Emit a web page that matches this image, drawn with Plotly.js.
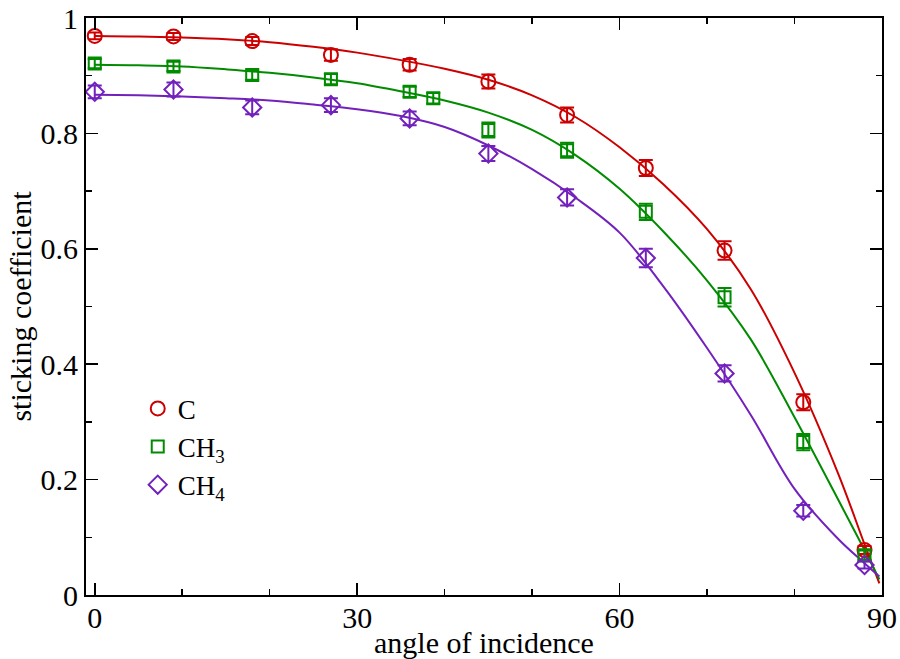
<!DOCTYPE html>
<html>
<head>
<meta charset="utf-8">
<script src="https://cdn.plot.ly/plotly-3.0.1.min.js"></script>
<style>body{margin:0;padding:0;background:#fff}#chart{width:900px;height:659px}</style>
</head>
<body>
<div id="chart"></div>
<script>
// Measured data points (angle of incidence, sticking coefficient, error)
const angles = [0, 9, 18, 27, 36, 45, 54, 63, 72, 81, 88];
const anglesCH3 = [0, 9, 18, 27, 36, 38.7, 45, 54, 63, 72, 81, 88];

const valC   = [0.969, 0.968, 0.960, 0.936, 0.919, 0.890, 0.832, 0.740, 0.597, 0.334, 0.078];
const errC   = [0.006, 0.006, 0.007, 0.010, 0.010, 0.012, 0.013, 0.014, 0.016, 0.014, 0.007];

const valCH3 = [0.921, 0.916, 0.901, 0.894, 0.872, 0.861, 0.806, 0.771, 0.664, 0.516, 0.265, 0.069];
const errCH3 = [0.008, 0.008, 0.008, 0.009, 0.009, 0.009, 0.013, 0.013, 0.014, 0.016, 0.014, 0.008];

const valCH4 = [0.872, 0.876, 0.845, 0.849, 0.826, 0.765, 0.689, 0.584, 0.384, 0.146, 0.052];
const errCH4 = [0.011, 0.012, 0.012, 0.012, 0.012, 0.013, 0.014, 0.016, 0.014, 0.010, 0.006];

// Fitted curves
const fitX    = [0, 5, 10, 15, 20, 25, 30, 35, 40, 45, 50, 55, 60, 65, 70, 75, 80, 85, 88, 89.7];
const fitC    = [0.969, 0.968, 0.966, 0.963, 0.958, 0.950, 0.940, 0.927, 0.912, 0.893, 0.866, 0.828, 0.776, 0.712, 0.634, 0.530, 0.385, 0.210, 0.088, 0.020];
const fitCH3  = [0.919, 0.918, 0.916, 0.911, 0.905, 0.897, 0.887, 0.873, 0.857, 0.836, 0.806, 0.762, 0.704, 0.630, 0.545, 0.443, 0.308, 0.165, 0.078, 0.027];
const fitCH4  = [0.867, 0.866, 0.864, 0.861, 0.857, 0.850, 0.842, 0.830, 0.811, 0.779, 0.738, 0.688, 0.628, 0.535, 0.428, 0.312, 0.184, 0.097, 0.055, 0.032];

const names = ['C', 'CH<sub>3</sub>', 'CH<sub>4</sub>'];
const colors = ['rgb(204,0,0)', 'rgb(0,139,0)', 'rgb(114,33,188)'];
const FONT = '"Liberation Serif", "Times New Roman", serif';

function lineTrace(y, c) {
  return {x: fitX, y: y, mode: 'lines', line: {color: c, width: 2, shape: 'spline', smoothing: 1},
          showlegend: false, hoverinfo: 'skip'};
}
function ptTrace(x, y, e, name, c, sym, size) {
  return {x: x, y: y, name: name, mode: 'markers',
          marker: {symbol: sym, size: size, color: c, line: {color: c, width: 2}},
          error_y: {type: 'data', array: e, visible: true, color: c, thickness: 2, width: 7}};
}

const data = [
  lineTrace(fitC, colors[0]),
  lineTrace(fitCH3, colors[1]),
  lineTrace(fitCH4, colors[2]),
  ptTrace(angles, valC, errC, names[0], colors[0], 'circle-open', 14),
  ptTrace(anglesCH3, valCH3, errCH3, names[1], colors[1], 'square-open', 12),
  ptTrace(angles, valCH4, errCH4, names[2], colors[2], 'diamond-open', 14)
];

const axisCommon = {
  showgrid: false, zeroline: false, showline: true, linecolor: '#000', linewidth: 2,
  mirror: 'ticks', ticks: 'inside', ticklen: 12, tickwidth: 1.5, tickcolor: '#000',
  tickfont: {family: FONT, size: 30, color: '#000'}
};

const layout = {
  width: 900, height: 659,
  margin: {l: 86, r: 18, t: 18, b: 64},
  paper_bgcolor: '#fff', plot_bgcolor: '#fff',
  font: {family: FONT, size: 30, color: '#000'},
  xaxis: Object.assign({}, axisCommon, {
    range: [-1, 90], tickvals: [0, 30, 60, 90], ticktext: ['0', '30', '60', '90'],
    ticklabelstandoff: -5,
    minor: {dtick: 10, tick0: 0, ticks: 'inside', ticklen: 6, tickwidth: 1.5, tickcolor: '#000'},
    title: {text: 'angle of incidence', font: {family: FONT, size: 30, color: '#000'}, standoff: 0}
  }),
  yaxis: Object.assign({}, axisCommon, {
    range: [0, 1], tickvals: [0, 0.2, 0.4, 0.6, 0.8, 1], ticktext: ['0', '0.2', '0.4', '0.6', '0.8', '1'],
    minor: {dtick: 0.1, tick0: 0, ticks: 'inside', ticklen: 6, tickwidth: 1.5, tickcolor: '#000'},
    title: {text: 'sticking coefficient', font: {family: FONT, size: 30, color: '#000'}, standoff: 0}
  }),
  showlegend: true,
  legend: {x: 0.065, y: 0.365, xanchor: 'left', yanchor: 'top', bgcolor: 'rgba(0,0,0,0)',
           font: {family: FONT, size: 27, color: '#000'}, tracegroupgap: 0, itemwidth: 30}
};

Plotly.newPlot('chart', data, layout, {displayModeBar: false, staticPlot: true});
</script>
</body>
</html>
